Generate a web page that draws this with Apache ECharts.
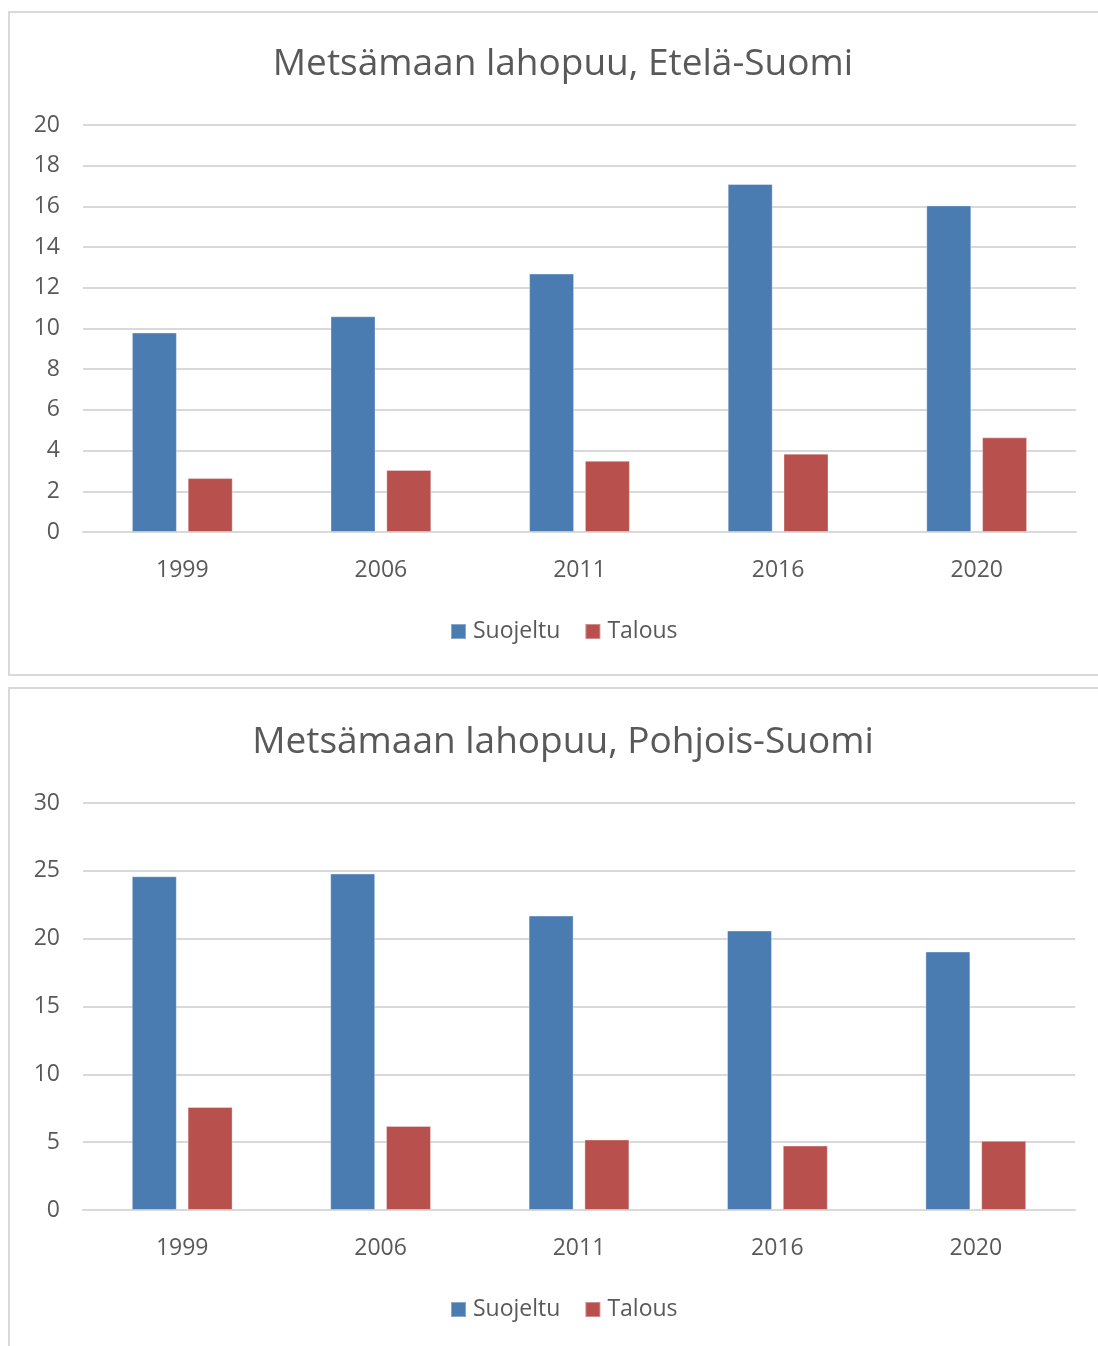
<!DOCTYPE html>
<html>
<head>
<meta charset="utf-8">
<script src="https://cdn.jsdelivr.net/npm/echarts@6/dist/echarts.min.js"></script>
<style>
  html, body { margin: 0; padding: 0; background: #fff; width: 1098px; height: 1346px; overflow: hidden; }
  .panel { position: absolute; border: 2px solid #d9d9d9; box-sizing: border-box; background: #fff; }
  #p1 { left: 8px; top: 11px; width: 1100px; height: 665px; }
  #p2 { left: 8px; top: 687px; width: 1100px; height: 700px; }
  #chart { position: absolute; left: 0; top: 0; width: 1098px; height: 1346px; }
</style>
</head>
<body>
<div class="panel" id="p1"></div>
<div class="panel" id="p2"></div>
<div id="chart"></div>
<script>
// Survey years
const years = ['1999', '2006', '2011', '2016', '2020'];
const seriesNames = ['Suojeltu', 'Talous'];

// Dead wood volume in forest land, southern Finland
const southProtected = [9.8, 10.6, 12.7, 17.1, 16.05];
const southManaged   = [2.65, 3.05, 3.5, 3.85, 4.65];

// Dead wood volume in forest land, northern Finland
const northProtected = [24.6, 24.8, 21.7, 20.6, 19.05];
const northManaged   = [7.6, 6.2, 5.2, 4.75, 5.1];

const titles = ['Metsämaan lahopuu, Etelä-Suomi', 'Metsämaan lahopuu, Pohjois-Suomi'];

const FONT = 'Open Sans';
const TEXT = '#595959';
const GRID = '#d9d9d9';
const BLUE = '#4a7bb1';
const RED = '#b8514d';

function yAxis(gridIndex, max, interval) {
  return {
    type: 'value', gridIndex, min: 0, max, interval,
    axisLine: { show: false }, axisTick: { show: false },
    axisLabel: { color: TEXT, fontFamily: FONT, fontSize: 23, margin: 23 },
    splitLine: { lineStyle: { color: GRID, width: 2 } }
  };
}
function xAxis(gridIndex) {
  return {
    type: 'category', gridIndex, data: years,
    axisLine: { show: true, lineStyle: { color: GRID, width: 2 } },
    axisTick: { show: false },
    axisLabel: { color: TEXT, fontFamily: FONT, fontSize: 23, margin: 27 }
  };
}
function bar(name, data, color, idx) {
  return {
    name, type: 'bar', data, xAxisIndex: idx, yAxisIndex: idx,
    barWidth: 45, barGap: '24%',
    itemStyle: { color, borderColor: 'rgba(255,255,255,0.35)', borderWidth: 1 }
  };
}
function legend(top) {
  return {
    data: seriesNames, top, left: 445, itemWidth: 15, itemHeight: 15, itemGap: 24, icon: 'rect',
    textStyle: { color: TEXT, fontFamily: FONT, fontSize: 23, padding: [0, 0, 0, 2] }
  };
}
function title(text, top) {
  return { text, left: 558, top, textAlign: 'center',
    textStyle: { color: TEXT, fontFamily: FONT, fontSize: 37, fontWeight: 'normal' } };
}

const chart = echarts.init(document.getElementById('chart'));
chart.setOption({
  animation: false,
  title: [title(titles[0], 41), title(titles[1], 719)],
  legend: [legend(615), legend(1293)],
  grid: [
    { left: 83, right: 22, top: 125, height: 407 },
    { left: 83, right: 23, top: 803, height: 407 }
  ],
  xAxis: [xAxis(0), xAxis(1)],
  yAxis: [yAxis(0, 20, 2), yAxis(1, 30, 5)],
  series: [
    bar(seriesNames[0], southProtected, BLUE, 0),
    bar(seriesNames[1], southManaged, RED, 0),
    bar(seriesNames[0], northProtected, BLUE, 1),
    bar(seriesNames[1], northManaged, RED, 1)
  ]
});
</script>
</body>
</html>
